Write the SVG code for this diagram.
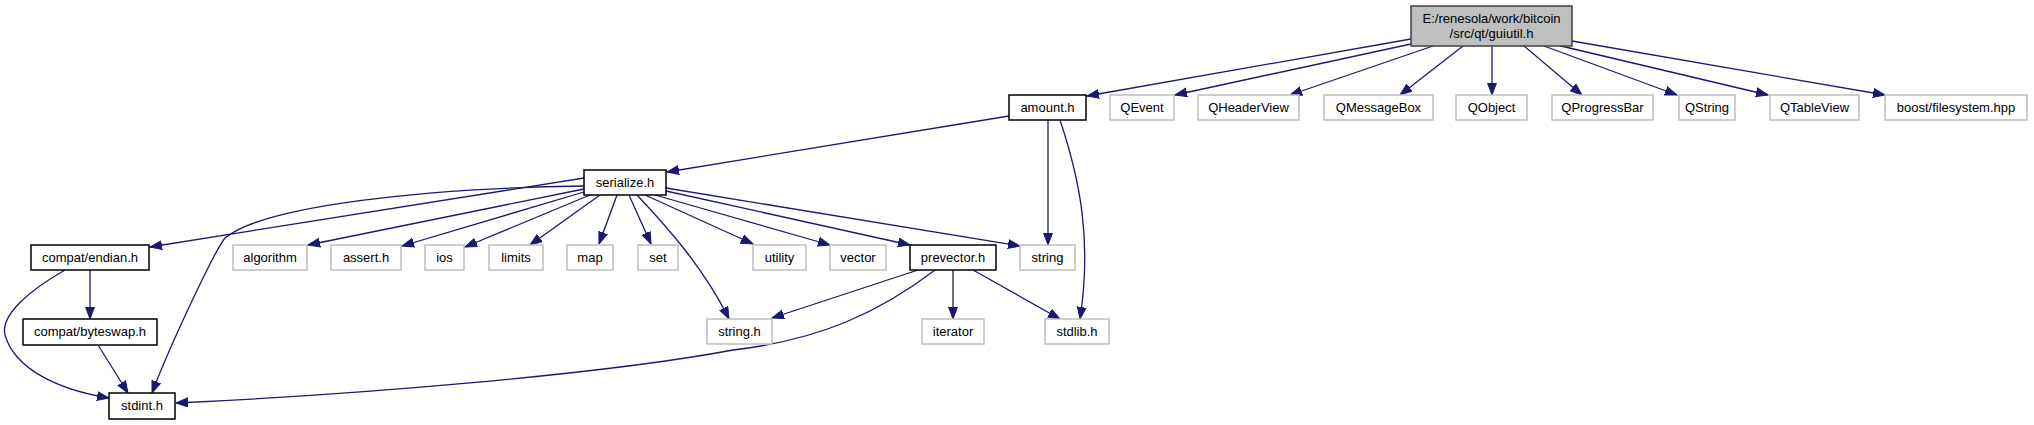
<svg xmlns="http://www.w3.org/2000/svg" width="2034" height="425" viewBox="0 0 2034 425">
<style>
text{font-family:"Liberation Sans",Arial,sans-serif;font-size:13px;text-anchor:middle;fill:#000}
.doc{fill:#fff;stroke:#000;stroke-width:1.5}
.ext{fill:#fff;stroke:#bfbfbf;stroke-width:1.5}
.main{fill:#bfbfbf;stroke:#404040;stroke-width:1.5}
.e{fill:none;stroke:#191970;stroke-width:1.3;marker-end:url(#ah)}
</style>
<defs>
<marker id="ah" markerUnits="userSpaceOnUse" markerWidth="14" markerHeight="11" refX="12" refY="5" orient="auto">
<path d="M0,0.5 L12,5 L0,9.5 z" fill="#191970" stroke="#191970" stroke-width="1"/>
</marker>
</defs>
<rect width="2034" height="425" fill="#fff"/>
<g id="edges">
<path class="e" d="M1411,39 L1087,96"/>
<path class="e" d="M1411,44 L1175,95"/>
<path class="e" d="M1433,46 L1290,95"/>
<path class="e" d="M1463,46 L1400,95"/>
<path class="e" d="M1492,46 L1492,95"/>
<path class="e" d="M1524,46 L1582,95"/>
<path class="e" d="M1544,46 L1677,95"/>
<path class="e" d="M1561,46 L1768,95"/>
<path class="e" d="M1572,41 L1885,95"/>
<path class="e" d="M1009,116 L667,172"/>
<path class="e" d="M1048,120 L1048,245"/>
<path class="e" d="M1060,120 C1080,180 1092,240 1080,319"/>
<path class="e" d="M584,178 L150,247"/>
<path class="e" d="M584,186 C430,188 265,205 225,238 C215,250 170,345 152,393"/>
<path class="e" d="M584,189 L308,245"/>
<path class="e" d="M584,192 L402,246"/>
<path class="e" d="M590,195 L465,247"/>
<path class="e" d="M600,195 L530,245"/>
<path class="e" d="M617,195 L599,244"/>
<path class="e" d="M629,195 L651,244"/>
<path class="e" d="M637,195 C670,230 705,270 729,319"/>
<path class="e" d="M645,195 L753,244"/>
<path class="e" d="M655,195 L830,245"/>
<path class="e" d="M666,191 L910,245"/>
<path class="e" d="M666,188 L1020,246"/>
<path class="e" d="M918,270 L772,318"/>
<path class="e" d="M935,270 C880,312 820,340 733,350 C600,375 350,395 176,403"/>
<path class="e" d="M953,270 L953,319"/>
<path class="e" d="M973,270 L1060,319"/>
<path class="e" d="M90,270 L90,319"/>
<path class="e" d="M65,270 C30,290 0,315 5,335 C15,370 60,390 109,398"/>
<path class="e" d="M98,345 L128,393"/>
</g>
<g id="guiutil"><rect class="main" x="1411" y="6" width="161" height="40"/><text x="1491.5" y="23">E:/renesola/work/bitcoin</text><text x="1491.5" y="38">/src/qt/guiutil.h</text></g>
<g id="amount"><rect class="doc" x="1009" y="95" width="77" height="25"/><text x="1047.5" y="112">amount.h</text></g>
<g id="QEvent"><rect class="ext" x="1110" y="95" width="64" height="25"/><text x="1142" y="112">QEvent</text></g>
<g id="QHeaderView"><rect class="ext" x="1198" y="95" width="101" height="25"/><text x="1248.5" y="112">QHeaderView</text></g>
<g id="QMessageBox"><rect class="ext" x="1324" y="95" width="109" height="25"/><text x="1378.5" y="112">QMessageBox</text></g>
<g id="QObject"><rect class="ext" x="1456" y="95" width="71" height="25"/><text x="1491.5" y="112">QObject</text></g>
<g id="QProgressBar"><rect class="ext" x="1552" y="95" width="101" height="25"/><text x="1602.5" y="112">QProgressBar</text></g>
<g id="QString"><rect class="ext" x="1679" y="95" width="56" height="25"/><text x="1707" y="112">QString</text></g>
<g id="QTableView"><rect class="ext" x="1770" y="95" width="89" height="25"/><text x="1814.5" y="112">QTableView</text></g>
<g id="boost"><rect class="ext" x="1885" y="95" width="142" height="25"/><text x="1956" y="112">boost/filesystem.hpp</text></g>
<g id="serialize"><rect class="doc" x="584" y="170" width="82" height="25"/><text x="625" y="187">serialize.h</text></g>
<g id="endian"><rect class="doc" x="31" y="245" width="118" height="25"/><text x="90" y="262">compat/endian.h</text></g>
<g id="algorithm"><rect class="ext" x="233" y="245" width="74" height="25"/><text x="270" y="262">algorithm</text></g>
<g id="assert"><rect class="ext" x="331" y="245" width="70" height="25"/><text x="366" y="262">assert.h</text></g>
<g id="ios"><rect class="ext" x="425" y="245" width="39" height="25"/><text x="444.5" y="262">ios</text></g>
<g id="limits"><rect class="ext" x="489" y="245" width="54" height="25"/><text x="516" y="262">limits</text></g>
<g id="map"><rect class="ext" x="567" y="245" width="46" height="25"/><text x="590" y="262">map</text></g>
<g id="set"><rect class="ext" x="638" y="245" width="40" height="25"/><text x="658" y="262">set</text></g>
<g id="utility"><rect class="ext" x="753" y="245" width="53" height="25"/><text x="779.5" y="262">utility</text></g>
<g id="vector"><rect class="ext" x="830" y="245" width="56" height="25"/><text x="858" y="262">vector</text></g>
<g id="prevector"><rect class="doc" x="910" y="245" width="86" height="25"/><text x="953" y="262">prevector.h</text></g>
<g id="string"><rect class="ext" x="1020" y="245" width="55" height="25"/><text x="1047.5" y="262">string</text></g>
<g id="byteswap"><rect class="doc" x="23" y="319" width="134" height="26"/><text x="90" y="336">compat/byteswap.h</text></g>
<g id="stringh"><rect class="ext" x="707" y="319" width="65" height="25"/><text x="739.5" y="336">string.h</text></g>
<g id="iterator"><rect class="ext" x="922" y="319" width="62" height="25"/><text x="953" y="336">iterator</text></g>
<g id="stdlib"><rect class="ext" x="1045" y="319" width="64" height="25"/><text x="1077" y="336">stdlib.h</text></g>
<g id="stdint"><rect class="doc" x="109" y="393" width="66" height="26"/><text x="142" y="410">stdint.h</text></g>
</svg>
